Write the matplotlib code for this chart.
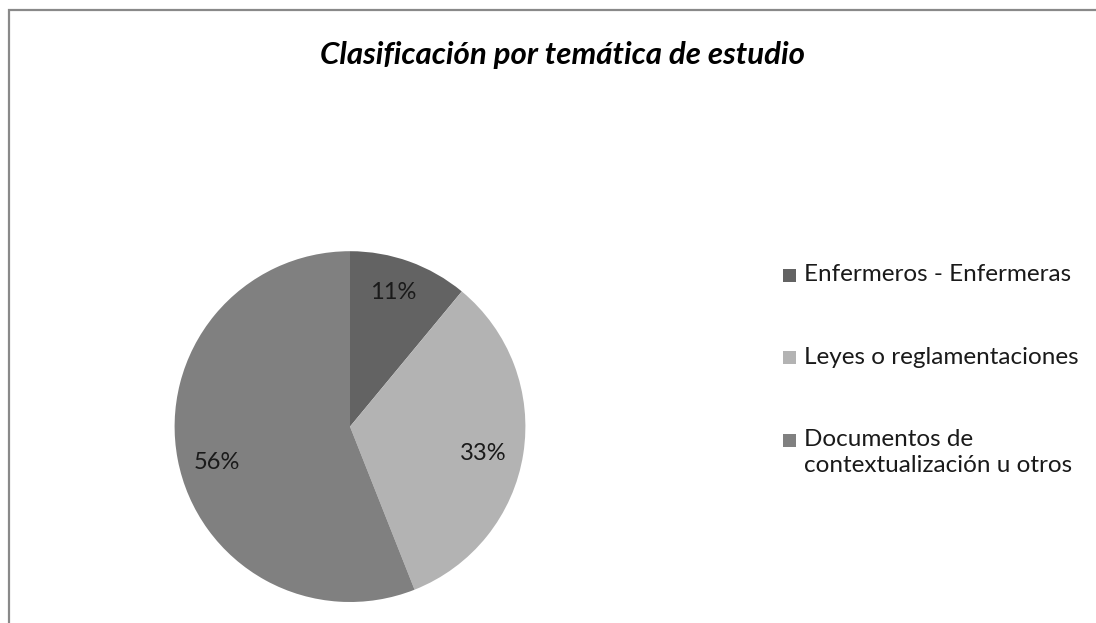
import matplotlib
matplotlib.use("Agg")
import matplotlib.pyplot as plt
from matplotlib.patches import Rectangle

plt.rcParams['font.family'] = ['Lato', 'DejaVu Sans']

title = "Clasificación por temática de estudio"
categories = ["Enfermeros - Enfermeras", "Leyes o reglamentaciones",
              "Documentos de\ncontextualización u otros"]
values = [11, 33, 56]
colors = ["#636363", "#b3b3b3", "#808080"]

W, H = 1096, 623
fig = plt.figure(figsize=(W / 100, H / 100), dpi=100)

def fx(x):
    return x / W

def fy(y):
    return 1 - y / H

# frame
fig.add_artist(Rectangle((fx(9), fy(700)), 1.2, (700 - 10) / H, transform=fig.transFigure,
                         fill=False, edgecolor="#898989", linewidth=1.6))

# pie axes
cx, cy, r = 350, 426.6, 175.4
ax = fig.add_axes([fx(cx - r), fy(cy + r), 2 * r / W, 2 * r / H])
wedges, texts, autotexts = ax.pie(values, colors=colors, startangle=90, counterclock=False,
                                  radius=1, autopct='%1.0f%%', pctdistance=0.78,
                                  wedgeprops=dict(linewidth=0),
                                  textprops=dict(fontsize=17, color="#1a1a1a"))
ax.set_xlim(-1, 1)
ax.set_ylim(-1, 1)
ax.set_aspect('equal')
ax.axis('off')

label_pos = [(0.245, 0.762), (0.758, -0.151), (-0.758, -0.206)]
for t, p in zip(autotexts, label_pos):
    t.set_position(p)
    t.set_ha('center')
    t.set_va('center')

# title
fig.text(fx(562), fy(55), title, ha='center', va='center', fontsize=22.5,
         fontweight='bold', fontstyle='italic', color='#000000')

# legend
leg_y = [275, 357, 440]
sq = 13
for lab, col, y in zip(categories, colors, leg_y):
    fig.add_artist(Rectangle((fx(783), fy(y + sq / 2)), sq / W, sq / H,
                             transform=fig.transFigure, facecolor=col, edgecolor='none'))
    for i, line in enumerate(lab.split("\n")):
        fig.text(fx(804), fy(y + i * 26), line, ha='left', va='center',
                 fontsize=17.5, color='#1a1a1a')

fig.savefig("out.png", dpi=100)
